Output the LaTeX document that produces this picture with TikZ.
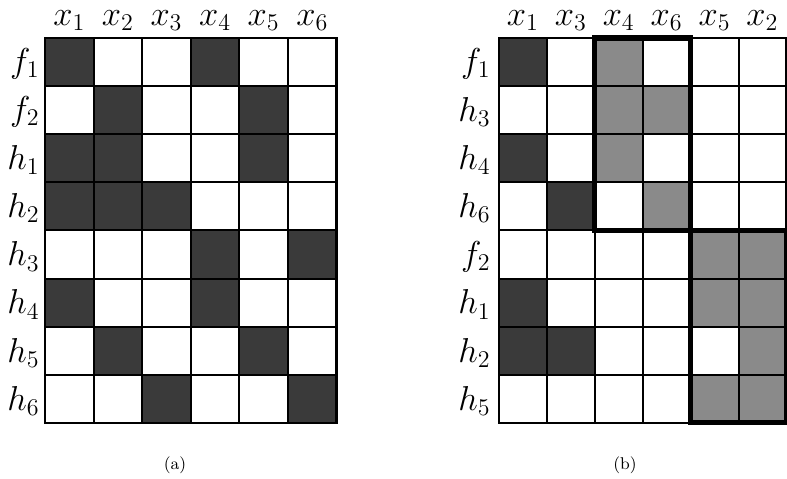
\documentclass[tikz,border=0pt]{standalone}
\definecolor{c0}{HTML}{FFFFFF}
\definecolor{c1}{HTML}{3A3A3A}
\definecolor{c2}{HTML}{8A8A8A}
\newcommand\lbl[2]{$#1_{#2}$}
\tikzset{
  thin grid/.style={line width=1pt, draw=black},
  outer/.style={line width=1.3pt, draw=black},
  blockline/.style={line width=2.6pt, draw=black},
  collab/.style={inner sep=0pt, anchor=base, font=\fontsize{18}{21}\selectfont},
  rowlab/.style={inner sep=0pt, anchor=east, font=\fontsize{18}{21}\selectfont},
  caplab/.style={inner sep=0pt, font=\fontsize{8.5}{10}\selectfont}
}
\begin{document}
\begin{tikzpicture}[x=0.5pt, y=-0.5pt]
\useasboundingbox (0,0) rectangle (787,478);
% ---------- left matrix ----------
\def\LX{45}\def\LW{48.6}\def\TY{38}\def\RH{48.1}
\foreach \row [count=\r] in {{1,0,0,1,0,0},{0,1,0,0,1,0},{1,1,0,0,1,0},{1,1,1,0,0,0},{0,0,0,1,0,1},{1,0,0,1,0,0},{0,1,0,0,1,0},{0,0,1,0,0,1}}{
  \foreach \v [count=\c] in \row {
    \fill[c\v] ({\LX+(\c-1)*\LW},{\TY+(\r-1)*\RH}) rectangle ++(\LW,\RH);
  }
}
\foreach \c in {1,...,5} \draw[thin grid] ({\LX+\c*\LW},\TY) -- ++(0,{8*\RH});
\foreach \r in {1,...,7} \draw[thin grid] (\LX,{\TY+\r*\RH}) -- ++({6*\LW},0);
\draw[outer] (\LX,\TY) rectangle ++({6*\LW},{8*\RH});
\foreach \n [count=\c] in {1,...,6}
  \node[collab] (la-x\n) at ({\LX+(\c-0.5)*\LW},25) {\lbl{x}{\n}};
\foreach \a/\b [count=\r] in {f/1,f/2,h/1,h/2,h/3,h/4,h/5,h/6}
  \node[rowlab] (la-\a\b) at (40,{\TY+(\r-0.5)*\RH+2}) {\lbl{\a}{\b}};
\node[caplab] (capa) at (175,465) {(a)};
% ---------- right matrix ----------
\def\RX{499}\def\RW{47.9}
\foreach \row [count=\r] in {{1,0,2,0,0,0},{0,0,2,2,0,0},{1,0,2,0,0,0},{0,1,0,2,0,0},{0,0,0,0,2,2},{1,0,0,0,2,2},{1,1,0,0,0,2},{0,0,0,0,2,2}}{
  \foreach \v [count=\c] in \row {
    \fill[c\v] ({\RX+(\c-1)*\RW},{\TY+(\r-1)*\RH}) rectangle ++(\RW,\RH);
  }
}
\foreach \c in {1,...,5} \draw[thin grid] ({\RX+\c*\RW},\TY) -- ++(0,{8*\RH});
\foreach \r in {1,...,7} \draw[thin grid] (\RX,{\TY+\r*\RH}) -- ++({6*\RW},0);
\draw[outer] (\RX,\TY) rectangle ++({6*\RW},{8*\RH});
\draw[blockline] ({\RX+2*\RW},\TY) rectangle ({\RX+4*\RW},{\TY+4*\RH});
\draw[blockline] ({\RX+4*\RW},{\TY+4*\RH}) rectangle ({\RX+6*\RW},{\TY+8*\RH});
\foreach \n [count=\c] in {1,3,4,6,5,2}
  \node[collab] (lb-x\n) at ({\RX+(\c-0.5)*\RW},25) {\lbl{x}{\n}};
\foreach \a/\b [count=\r] in {f/1,h/3,h/4,h/6,f/2,h/1,h/2,h/5}
  \node[rowlab] (lb-\a\b) at (491,{\TY+(\r-0.5)*\RH+2}) {\lbl{\a}{\b}};
\node[caplab] (capb) at (625,465) {(b)};
\end{tikzpicture}
\end{document}
